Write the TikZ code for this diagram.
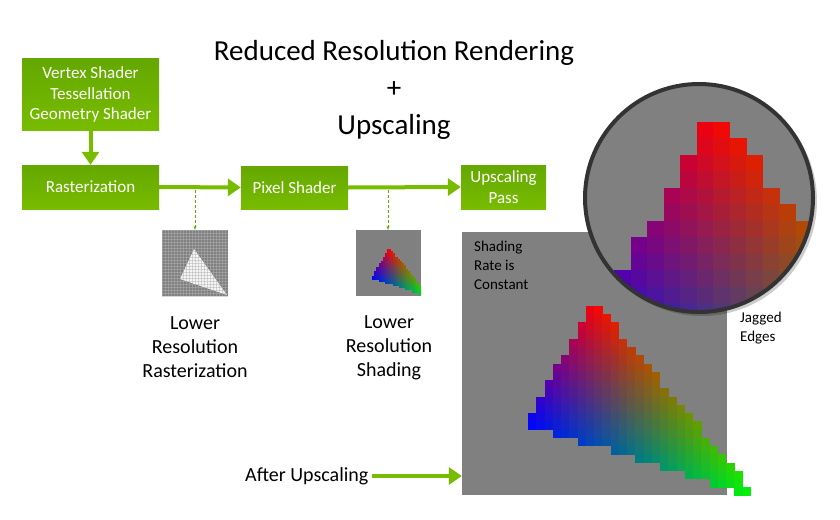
\documentclass[tikz,border=0pt]{standalone}
\usepackage{fontspec}
\setmainfont{Carlito}
\usetikzlibrary{arrows.meta}
\definecolor{nvA}{HTML}{64A800}
\definecolor{nvB}{HTML}{78BC00}
\definecolor{pgray}{HTML}{808080}
\tikzset{
 box/.style={draw=none,top color=nvA,bottom color=nvB,text=white,font=\fontsize{17}{20.5}\selectfont,align=center,inner sep=0},
 flow/.style={draw=nvB,line width=4pt,-{Triangle[length=13pt,width=17pt]}},
 tap/.style={draw=nvA,densely dashed,line width=0.8pt,-{Stealth[length=4pt]}},
 lbl/.style={font=\fontsize{20}{24}\selectfont,align=center},
 small/.style={font=\fontsize{15}{19}\selectfont,align=left,anchor=north west,inner sep=0}
}
% cell drawer: #1 ox, #2 oy, #3 scale
\newcommand{\mycells}[3]{%
 \foreach \i in {0,...,28}{\foreach \j in {0,...,23}{%
  \pgfmathsetmacro\px{(528.25+(\i+0.5)*8.25)/100}%
  \pgfmathsetmacro\py{(306+(\j+0.5)*8.25)/100}%
  \pgfmathsetmacro\la{((4.24-5.00)*(\px-7.60)+(7.60-5.26)*(\py-5.00))/((4.24-5.00)*(5.94-7.60)+(7.60-5.26)*(3.00-5.00))}%
  \pgfmathsetmacro\lb{((5.00-3.00)*(\px-7.60)+(5.94-7.60)*(\py-5.00))/((4.24-5.00)*(5.94-7.60)+(7.60-5.26)*(3.00-5.00))}%
  \pgfmathsetmacro\lc{1-\la-\lb}%
  \pgfmathsetmacro\ok{and(and(\la>=0,\lb>=0),\lc>=0)}%
  \ifdim\ok pt>0.5pt
   \definecolor{cc}{rgb}{\la,\lc,\lb}%
   \fill[cc] ({#1+#3*(528.25+\i*8.25-586)-0.2},{#2+#3*(306+\j*8.25-306)-0.2}) rectangle ++({#3*8.25+0.4},{#3*8.25+0.4});
  \fi}}}
\begin{document}
\begin{tikzpicture}[x=1pt,y=-1pt]
\useasboundingbox[fill=white] (0,0) rectangle (840,519);
% title
\node[font=\fontsize{29}{34}\selectfont] (t1) at (394,53) {Reduced Resolution Rendering};
\node[font=\fontsize{29}{34}\selectfont] (t2) at (394,90) {+};
\node[font=\fontsize{29}{34}\selectfont] (t3) at (394,127) {Upscaling};
% boxes
\node[box,minimum width=137pt,minimum height=71pt] (vs) at (90.5,94.5) {Vertex Shader\\Tessellation\\Geometry Shader};
\node[box,minimum width=137pt,minimum height=44pt] (ra) at (90.5,187) {Rasterization};
\node[box,minimum width=107pt,minimum height=43pt] (ps) at (294.5,187.5) {Pixel Shader};
\node[box,minimum width=85pt,minimum height=44pt] (up) at (503.5,187) {Upscaling\\Pass};
\draw[flow] (vs.south) -- (ra.north);
\draw[flow] (ra.east) -- (ps.west);
\draw[flow] (ps.east) -- (up.west);
% small images
\node[fill=pgray,minimum width=66pt,minimum height=66pt,inner sep=0] (im1) at (195,263) {};
\node[fill=pgray,minimum width=65pt,minimum height=66pt,inner sep=0] (im2) at (388.5,263) {};
\coordinate (r1) at (195,190); \coordinate (r2) at (388,190);
\draw[tap] (r1) -- (r1|-im1.north);
\draw[tap] (r2) -- (r2|-im2.north);
\begin{scope}
\clip (162,230) rectangle (228,296);
\fill[white!92!gray] (194,249) -- (180,279) -- (227,295) -- cycle;
\foreach \k in {0,3,...,66}{\draw[gray!60,line width=0.2pt,opacity=0.5] (162+\k,230) -- (162+\k,296); \draw[gray!60,line width=0.2pt,opacity=0.5] (162,230+\k) -- (228,230+\k);}
\end{scope}
\begin{scope}
\clip (356,230) rectangle (421,296);
\mycells{387}{249}{0.25}
\end{scope}
\node[lbl] (l1) at (195,347) {Lower\\Resolution\\Rasterization};
\node[lbl] (l2) at (389,348) {Lower\\Resolution\\Shading};
% big image
\node[fill=pgray,minimum width=265pt,minimum height=263pt,inner sep=0] (big) at (594.5,363.5) {};
\mycells{586}{306}{1}
\node[small] (sr) at (474,241) {Shading\\Rate is\\Constant};
% zoom circle
\fill[black,opacity=0.2] (702,201) circle (115);
\begin{scope}
\clip (699,198) circle (114);
\fill[pgray] (699,198) circle (114);
\mycells{697}{122}{2}
\end{scope}
\draw[black!80,line width=4pt] (699,198) circle (114) coordinate (zc);
\node[small] (je) at (740,312) {Jagged\\Edges};
% after upscaling
\node[lbl,anchor=west,inner sep=0] (au) at (245,476) {After Upscaling};
\draw[flow] (au.east) ++(3,0) coordinate (ae) -- (ae-|big.west);
\end{tikzpicture}
\end{document}
